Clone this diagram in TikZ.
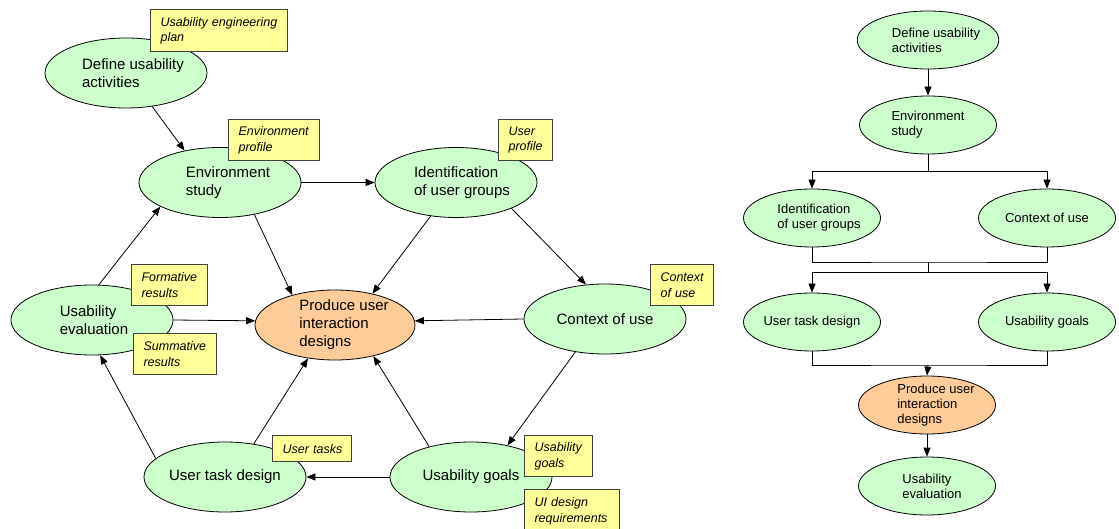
\documentclass[tikz,border=0pt]{standalone}
\usepackage{fontspec}
\setmainfont{Liberation Sans}
\usetikzlibrary{arrows.meta,shapes.geometric}
\definecolor{nodegreen}{HTML}{CCFFCC}
\definecolor{nodeorange}{HTML}{FFCC99}
\definecolor{noteyellow}{HTML}{FFFF99}
\definecolor{noteedge}{HTML}{404040}
% left padding of a text line inside an ellipse
\newcommand{\lpad}[1]{\hspace*{#1pt}}
\begin{document}
\begin{tikzpicture}[x=1pt,y=-1pt,
  bubble/.style={ellipse, draw=black, line width=0.8pt, fill=nodegreen, inner sep=-2pt,
    minimum width=162pt, minimum height=70pt, align=left, font=\fontsize{15}{18}\selectfont},
  focus/.style={bubble, fill=nodeorange, minimum width=160pt},
  sbubble/.style={bubble, minimum width=137pt, minimum height=58pt, font=\fontsize{13}{15}\selectfont},
  sfocus/.style={sbubble, fill=nodeorange},
  note/.style={rectangle, draw=noteedge, line width=1.1pt, fill=noteyellow, anchor=north west,
    inner xsep=10pt, inner ysep=0pt, align=left, font=\fontsize{12.5}{15.5}\selectfont\itshape},
  flow/.style={draw=black, line width=0.8pt, -{Triangle[length=9pt,width=7pt]}},
  link/.style={draw=black, line width=0.8pt},
]
\useasboundingbox (0,0) rectangle (1119,529);

% ---- cyclic process model ----
\node[bubble] (def) at (126,73)    {\lpad{14}Define usability\\\lpad{14}activities};
\node[bubble] (env) at (220,182.5) {\lpad{16}Environment\\\lpad{16}study};
\node[bubble] (idn) at (456,182.5) {\lpad{12}Identification\\\lpad{12}of user groups};
\node[bubble] (ctx) at (605,319)   {Context of use};
\node[bubble] (gol) at (471,477)   {Usability goals};
\node[bubble] (utd) at (225,477)   {User task design};
\node[bubble] (eva) at (92,320)    {\lpad{4}Usability\\\lpad{4}evaluation};
\node[focus]  (pro) at (335,325)   {\lpad{18}Produce user\\\lpad{18}interaction\\\lpad{18}designs};

\draw[flow] (def.-52)  -- (env.138);
\draw[flow] (env.east) -- (idn.west);
\draw[flow] (env.-43)  -- (pro.145);
\draw[flow] (idn.-127) -- (pro.40);
\draw[flow] (idn.-25)  -- (ctx.119);
\draw[flow] (ctx.west) -- (pro.3);
\draw[flow] (ctx.-132) -- (gol.41);
\draw[flow] (gol.144)  -- (pro.-39);
\draw[flow] (gol.west) -- (utd.east);
\draw[flow] (utd.49)   -- (pro.-129);
\draw[flow] (utd.165)  -- (eva.-77);
\draw[flow] (eva.79)   -- (env.-158);
\draw[flow] (eva.east) -- (pro.177);

% deliverables
\node[note, text width=117pt, minimum height=42pt] (nplan) at (150,9)   {Usability engineering\\plan};
\node[note, text width=71pt,  minimum height=41pt] (nenv)  at (228,119) {Environment\\profile};
\node[note, text width=34pt,  minimum height=41pt] (nusr)  at (498,119) {User\\profile};
\node[note, text width=43pt,  minimum height=41pt] (nctx)  at (650,264) {Context\\of use};
\node[note, text width=56pt,  minimum height=41pt] (nfor)  at (131,264) {Formative\\results};
\node[note, text width=63pt,  minimum height=41pt] (nsum)  at (133,333) {Summative\\results};
\node[note, text width=59pt,  minimum height=26pt] (ntsk)  at (272,435) {User~tasks};
\node[note, text width=48pt,  minimum height=41pt] (ngol)  at (524,435) {Usability\\goals};
\node[note, text width=75pt,  minimum height=43pt] (nreq)  at (524,489) {UI design\\requirements};

% ---- sequential process model ----
\node[sbubble] (rdef) at (928,40)   {\lpad{16}Define usability\\\lpad{16}activities};
\node[sbubble] (renv) at (928,125)  {Environment\\study};
\node[sbubble] (ridn) at (812,218)  {\lpad{14}Identification\\\lpad{14}of user groups};
\node[sbubble] (rctx) at (1047,218) {Context of use};
\node[sbubble] (rutd) at (812,322)  {User task design};
\node[sbubble] (rgol) at (1047,322) {Usability goals};
\node[sfocus]  (rpro) at (927,405)  {\lpad{18}Produce user\\\lpad{18}interaction\\\lpad{18}designs};
\node[sbubble] (reva) at (927,486)  {\lpad{10}Usability\\\lpad{10}evaluation};

\coordinate (j1) at (928,171);
\coordinate (j2) at (928,262);
\coordinate (j3) at (928,272);
\coordinate (j4) at (928,365);

\draw[flow] (rdef.south) -- (renv.north);
\draw[link] (renv.south) -- (j1);
\draw[flow] (j1) -| (ridn.north);
\draw[flow] (j1) -| (rctx.north);
\draw[link] (ridn.south) |- (j2) -| (rctx.south);
\draw[link] (j2) -- (j3);
\draw[flow] (j3) -| (rutd.north);
\draw[flow] (j3) -| (rgol.north);
\draw[link] (rutd.south) |- (j4) -| (rgol.south);
\draw[flow] (j4) -- (rpro.north);
\draw[flow] (rpro.south) -- (reva.north);
\end{tikzpicture}
\end{document}
